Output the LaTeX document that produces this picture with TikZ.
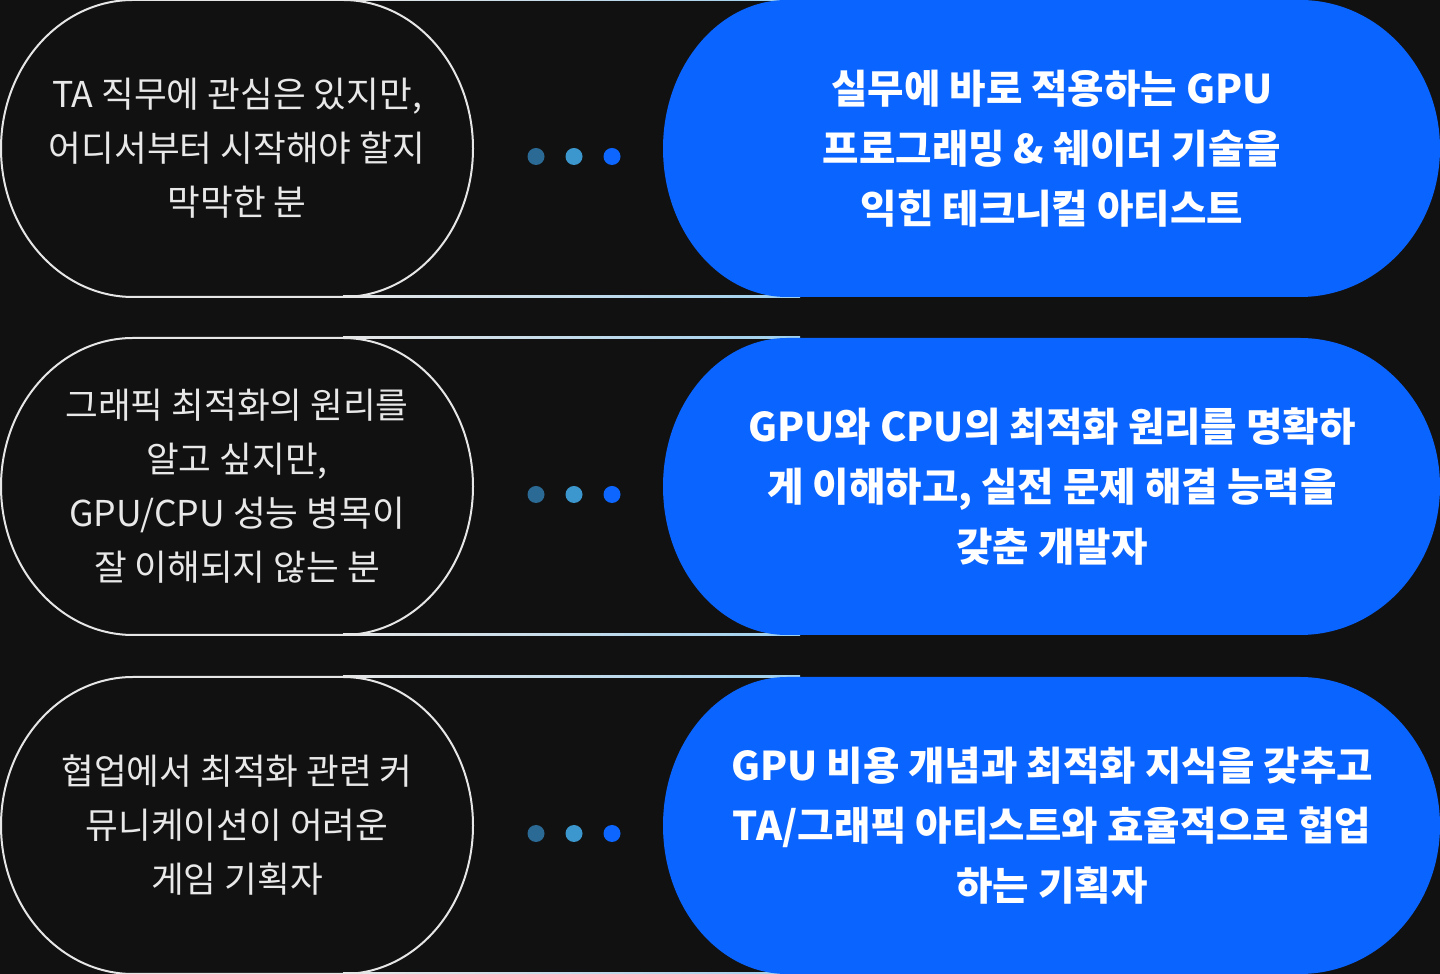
\documentclass[tikz,border=0pt]{standalone}
\usepackage{fontspec}
\newfontfamily\krfont{Noto Sans CJK KR}
\usetikzlibrary{calc, positioning}

\definecolor{bgdark}{HTML}{111111}
\definecolor{outw}{HTML}{E6E6E6}
\definecolor{txtw}{HTML}{E8E8E8}
\definecolor{mblue}{HTML}{0A64FF}
\definecolor{lineb}{HTML}{9FD0EE}
\definecolor{dota}{HTML}{2B6A94}
\definecolor{dotb}{HTML}{3C97CE}
\definecolor{dotc}{HTML}{0D66FF}

\begin{document}
\begin{tikzpicture}[
    x=0.5pt, y=0.5pt,
    whotext/.style={text=txtw, align=center, inner sep=0pt, font=\krfont\fontsize{17.8}{27}\selectfont},
    goaltext/.style={text=white, align=center, inner sep=0pt, font=\krfont\bfseries\fontsize{19.8}{30}\selectfont},
    outline/.style={draw=outw, line width=1pt},
    dot/.style={circle, inner sep=0pt, minimum size=8.5pt}
]

\fill[bgdark] (0,0) rectangle (1440,974);
\useasboundingbox (0,0) rectangle (1440,974);

\foreach \i/\cy/\who/\goal in {
    1/825.5/{TA 직무에 관심은 있지만,\\어디서부터 시작해야 할지\\막막한 분}/{실무에 바로 적용하는 GPU\\프로그래밍 \& 쉐이더 기술을\\익힌 테크니컬 아티스트},
    2/487.5/{그래픽 최적화의 원리를\\알고 싶지만,\\GPU/CPU 성능 병목이\\잘 이해되지 않는 분}/{GPU와 CPU의 최적화 원리를 명확하\\게 이해하고, 실전 문제 해결 능력을\\갖춘 개발자},
    3/148.5/{협업에서 최적화 관련 커\\뮤니케이션이 어려운\\게임 기획자}/{GPU 비용 개념과 최적화 지식을 갖추고\\TA/그래픽 아티스트와 효율적으로 협업\\하는 기획자}}
{
    % lines running from the outline into the blue pill
    \shade[left color=outw, right color=lineb] (343,\cy+147.5) rectangle (800,\cy+149.5);
    \shade[left color=outw, right color=lineb] (343,\cy-149.5) rectangle (800,\cy-147.5);

    \draw[outline] (133,\cy+148.5) -- (343,\cy+148.5)
        arc[start angle=90, end angle=-90, x radius=130, y radius=148.5]
        -- (133,\cy-148.5)
        arc[start angle=270, end angle=90, x radius=132, y radius=148.5] -- cycle;
    \node[whotext] (who\i) at (237,\cy) {\who};

    \fill[mblue] (787,\cy+148.5) -- (1300,\cy+148.5)
        arc[start angle=90, end angle=-90, x radius=140, y radius=148.5]
        -- (787,\cy-148.5)
        arc[start angle=270, end angle=90, x radius=124, y radius=148.5] -- cycle;
    \node[goaltext] (goal\i) at (1052,\cy) {\goal};

    \node[dot, fill=dota] (dota\i) at (536,\cy-8) {};
    \node[dot, fill=dotb, right=19pt of dota\i.center, anchor=center] (dotb\i) {};
    \node[dot, fill=dotc, right=19pt of dotb\i.center, anchor=center] (dotc\i) {};
}

\end{tikzpicture}
\end{document}
